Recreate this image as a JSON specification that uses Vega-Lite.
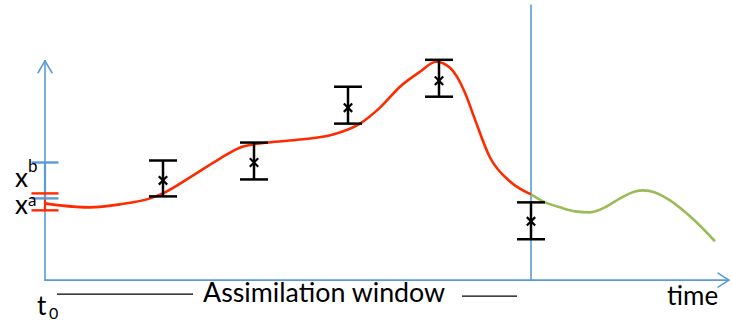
{
  "$schema": "https://vega.github.io/schema/vega-lite/v6.json",
  "width": 732,
  "height": 322,
  "autosize": {"type": "fit", "contains": "padding"},
  "padding": 0,
  "background": "white",
  "config": {"view": {"stroke": null}},
  "datasets": {
    "axes": [
      {"part": "state axis", "t": 45, "v": 41, "t2": 45, "v2": 261},
      {"part": "time axis", "t": 45, "v": 41, "t2": 727, "v2": 41},
      {"part": "window end", "t": 531, "v": 41, "t2": 531, "v2": 317},
      {"part": "state arrow left", "t": 38, "v": 249, "t2": 45, "v2": 261},
      {"part": "state arrow right", "t": 52, "v": 249, "t2": 45, "v2": 261},
      {"part": "time arrow top", "t": 718, "v": 48, "t2": 729, "v2": 41},
      {"part": "time arrow bottom", "t": 718, "v": 34, "t2": 729, "v2": 41}
    ],
    "trajectory": [
      {"run": "analysis", "t": 45, "v": 118},
      {"run": "analysis", "t": 60, "v": 116},
      {"run": "analysis", "t": 90, "v": 114},
      {"run": "analysis", "t": 120, "v": 117},
      {"run": "analysis", "t": 150, "v": 123},
      {"run": "analysis", "t": 163, "v": 128},
      {"run": "analysis", "t": 190, "v": 144},
      {"run": "analysis", "t": 220, "v": 163},
      {"run": "analysis", "t": 243, "v": 175},
      {"run": "analysis", "t": 268, "v": 179},
      {"run": "analysis", "t": 300, "v": 182},
      {"run": "analysis", "t": 333, "v": 187},
      {"run": "analysis", "t": 360, "v": 198},
      {"run": "analysis", "t": 380, "v": 214},
      {"run": "analysis", "t": 400, "v": 235},
      {"run": "analysis", "t": 420, "v": 250},
      {"run": "analysis", "t": 436, "v": 260},
      {"run": "analysis", "t": 450, "v": 254},
      {"run": "analysis", "t": 465, "v": 229},
      {"run": "analysis", "t": 475, "v": 202},
      {"run": "analysis", "t": 490, "v": 164},
      {"run": "analysis", "t": 510, "v": 140},
      {"run": "analysis", "t": 531, "v": 127},
      {"run": "forecast", "t": 531, "v": 127},
      {"run": "forecast", "t": 543, "v": 120},
      {"run": "forecast", "t": 560, "v": 114},
      {"run": "forecast", "t": 575, "v": 110},
      {"run": "forecast", "t": 590, "v": 109},
      {"run": "forecast", "t": 605, "v": 114},
      {"run": "forecast", "t": 620, "v": 123},
      {"run": "forecast", "t": 635, "v": 130},
      {"run": "forecast", "t": 643, "v": 131},
      {"run": "forecast", "t": 655, "v": 129},
      {"run": "forecast", "t": 670, "v": 121},
      {"run": "forecast", "t": 690, "v": 105},
      {"run": "forecast", "t": 715, "v": 80}
    ],
    "observations": [
      {"t": 163, "obs": 141, "lo": 125, "hi": 161},
      {"t": 254, "obs": 159, "lo": 142, "hi": 179},
      {"t": 348, "obs": 214, "lo": 198, "hi": 235},
      {"t": 439, "obs": 241, "lo": 225, "hi": 262},
      {"t": 531, "obs": 100, "lo": 82, "hi": 119}
    ],
    "initial": [
      {"state": "analysis", "t": 45, "lo": 111, "hi": 128},
      {"state": "background", "t": 45, "lo": 123, "hi": 159}
    ],
    "window": [
      {"t": 57, "t2": 193, "v": 27},
      {"t": 462, "t2": 517, "v": 25}
    ],
    "labels": [
      {"text": "x", "t": 15, "v": 134, "size": 26},
      {"text": "b", "t": 28, "v": 149, "size": 17},
      {"text": "x", "t": 15, "v": 107, "size": 26},
      {"text": "a", "t": 28, "v": 115, "size": 17},
      {"text": "t", "t": 37, "v": 6, "size": 26},
      {"text": "0", "t": 49, "v": 2, "size": 16},
      {"text": "Assimilation window", "t": 203, "v": 19, "size": 26.8},
      {"text": "time", "t": 667, "v": 16, "size": 26}
    ]
  },
  "layer": [
    {
      "data": {"name": "axes"},
      "mark": {"type": "rule", "color": "#5b9bd5", "strokeWidth": 1.6, "strokeCap": "round"},
      "encoding": {
        "x": {"field": "t", "type": "quantitative", "scale": {"domain": [0, 732], "nice": false, "zero": false}, "axis": null},
        "x2": {"field": "t2"},
        "y": {"field": "v", "type": "quantitative", "scale": {"domain": [0, 322], "nice": false, "zero": false}, "axis": null},
        "y2": {"field": "v2"}
      }
    },
    {
      "data": {"name": "initial"},
      "mark": {"type": "rule", "strokeWidth": 2.2},
      "encoding": {
        "x": {"field": "t", "type": "quantitative"},
        "y": {"field": "lo", "type": "quantitative"},
        "y2": {"field": "hi"},
        "color": {"field": "state", "type": "nominal", "scale": {"domain": ["background", "analysis", "forecast"], "range": ["#5b9bd5", "#ff2a00", "#9bbb59"]}, "legend": null}
      }
    },
    {
      "data": {"name": "initial"},
      "mark": {"type": "tick", "orient": "horizontal", "size": 27, "thickness": 2.4, "opacity": 1},
      "encoding": {
        "x": {"field": "t", "type": "quantitative"},
        "y": {"field": "hi", "type": "quantitative"},
        "color": {"field": "state", "type": "nominal", "legend": null}
      }
    },
    {
      "data": {"name": "initial"},
      "mark": {"type": "tick", "orient": "horizontal", "size": 27, "thickness": 2.4, "opacity": 1},
      "encoding": {
        "x": {"field": "t", "type": "quantitative"},
        "y": {"field": "lo", "type": "quantitative"},
        "color": {"field": "state", "type": "nominal", "legend": null}
      }
    },
    {
      "data": {"name": "trajectory"},
      "mark": {"type": "line", "interpolate": "monotone", "strokeWidth": 2.6},
      "encoding": {
        "x": {"field": "t", "type": "quantitative"},
        "y": {"field": "v", "type": "quantitative"},
        "color": {"field": "run", "type": "nominal", "legend": null}
      }
    },
    {
      "data": {"name": "observations"},
      "mark": {"type": "rule", "color": "black", "strokeWidth": 2.5},
      "encoding": {
        "x": {"field": "t", "type": "quantitative"},
        "y": {"field": "lo", "type": "quantitative"},
        "y2": {"field": "hi"}
      }
    },
    {
      "data": {"name": "observations"},
      "mark": {"type": "tick", "orient": "horizontal", "size": 28, "thickness": 2.5, "color": "black", "opacity": 1},
      "encoding": {
        "x": {"field": "t", "type": "quantitative"},
        "y": {"field": "lo", "type": "quantitative"}
      }
    },
    {
      "data": {"name": "observations"},
      "mark": {"type": "tick", "orient": "horizontal", "size": 28, "thickness": 2.5, "color": "black", "opacity": 1},
      "encoding": {
        "x": {"field": "t", "type": "quantitative"},
        "y": {"field": "hi", "type": "quantitative"}
      }
    },
    {
      "data": {"name": "observations"},
      "mark": {"type": "point", "shape": "M-1,-1L1,1M1,-1L-1,1", "size": 70, "stroke": "black", "strokeWidth": 2.2, "filled": false, "opacity": 1},
      "encoding": {
        "x": {"field": "t", "type": "quantitative"},
        "y": {"field": "obs", "type": "quantitative"}
      }
    },
    {
      "data": {"name": "window"},
      "mark": {"type": "rule", "color": "black", "strokeWidth": 1.2},
      "encoding": {
        "x": {"field": "t", "type": "quantitative"},
        "x2": {"field": "t2"},
        "y": {"field": "v", "type": "quantitative"}
      }
    },
    {
      "data": {"name": "labels"},
      "mark": {"type": "text", "font": "Lato", "baseline": "alphabetic", "align": "left", "color": "black"},
      "encoding": {
        "x": {"field": "t", "type": "quantitative"},
        "y": {"field": "v", "type": "quantitative"},
        "text": {"field": "text"},
        "size": {"field": "size", "type": "quantitative", "scale": null}
      }
    }
  ]
}
